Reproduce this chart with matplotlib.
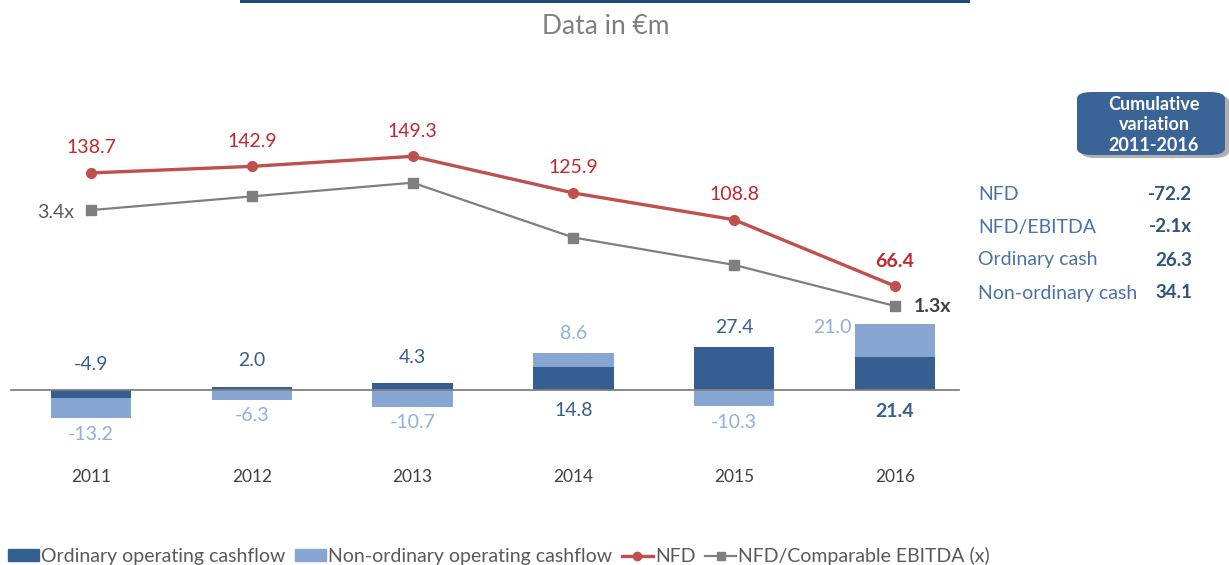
import matplotlib.pyplot as plt
from matplotlib.lines import Line2D
from matplotlib.patches import Patch, FancyBboxPatch, Rectangle

plt.rcParams['font.family'] = ['Lato', 'DejaVu Sans']

# data
years = ['2011', '2012', '2013', '2014', '2015', '2016']
ordinary = [-4.9, 2.0, 4.3, 14.8, 27.4, 21.4]
non_ordinary = [-13.2, -6.3, -10.7, 8.6, -10.3, 21.0]
nfd = [138.7, 142.9, 149.3, 125.9, 108.8, 66.4]
nfd_ebitda = [3.4, 3.7, 4.0, 2.8, 2.2, 1.3]

summary_labels = ['NFD', 'NFD/EBITDA', 'Ordinary cash', 'Non-ordinary cash']
summary_values = ['-72.2', '-2.1x', '26.3', '34.1']

DARK = '#365F91'
LIGHT = '#87A7D2'
RED = '#C0504D'
GREY = '#7F7F7F'
DARK_TXT = '#365F91'
LIGHT_TXT = '#8DB0DC'
RED_TXT = '#C0282D'

fig = plt.figure(figsize=(12.29, 5.65), dpi=100)
ax = fig.add_axes([0, 0, 1, 1])
ax.set_xlim(-0.566, 7.077)
ax.set_ylim(-111.8, 249.2)
ax.axis('off')

ax2 = ax.twinx()
ax2.set_position([0, 0, 1, 1])
ax2.set_ylim(-4.37, 8.0)
ax2.axis('off')

x = list(range(len(years)))

# stacked bars: light part stacks on the dark one when same sign
light_bottom = [o if (o * n > 0) else 0 for o, n in zip(ordinary, non_ordinary)]
ax.bar(x, ordinary, width=0.5, color=DARK, zorder=2)
ax.bar(x, non_ordinary, width=0.5, bottom=light_bottom, color=LIGHT, zorder=2)
ax.plot([-0.5, 5.4], [0, 0], color='#808080', lw=1.3, zorder=3)

ax.plot(x, nfd, color=RED, lw=2.4, marker='o', ms=7, zorder=4)
ax2.plot(x, nfd_ebitda, color=GREY, lw=1.6, marker='s', ms=7.5, zorder=4)

FS = 14

# NFD labels
for i, v in enumerate(nfd):
    bold = i == len(nfd) - 1
    ax.annotate(f'{v:.1f}', (i, v), xytext=(0, 25), textcoords='offset pixels',
                ha='center', va='center', fontsize=FS, color=RED_TXT,
                fontweight='bold' if bold else 'normal')

ax2.annotate(f'{nfd_ebitda[0]:.1f}x', (0, nfd_ebitda[0]), xytext=(-17, -2),
             textcoords='offset pixels', ha='right', va='center', fontsize=FS,
             color='#595959')
ax2.annotate(f'{nfd_ebitda[-1]:.1f}x', (5, nfd_ebitda[-1]), xytext=(19, 0),
             textcoords='offset pixels', ha='left', va='center', fontsize=FS,
             color='#404040', fontweight='bold')

# bar labels
dark_off = [(0, 26), (0, 26), (0, 26), (0, -20), (0, 20), (0, -21)]
for i, v in enumerate(ordinary):
    anchor = max(v, 0) if dark_off[i][1] > 0 else 0
    if i == 4:
        anchor = v
    ax.annotate(f'{v:.1f}', (i, anchor), xytext=dark_off[i], textcoords='offset pixels',
                ha='center', va='center', fontsize=FS, color=DARK_TXT,
                fontweight='bold' if i == 5 else 'normal')

for i, v in enumerate(non_ordinary):
    end = light_bottom[i] + v
    if v < 0:
        ax.annotate(f'{v:.1f}', (i, end), xytext=(0, -16), textcoords='offset pixels',
                    ha='center', va='center', fontsize=FS, color=LIGHT_TXT)
    elif i == 5:
        ax.annotate(f'{v:.1f}', (i, end), xytext=(-43, -4), textcoords='offset pixels',
                    ha='right', va='center', fontsize=FS, color=LIGHT_TXT)
    else:
        ax.annotate(f'{v:.1f}', (i, end), xytext=(0, 20), textcoords='offset pixels',
                    ha='center', va='center', fontsize=FS, color=LIGHT_TXT)

for i, y in enumerate(years):
    ax.annotate(y, (i, 0), xytext=(0, -87), textcoords='offset pixels',
                ha='center', va='center', fontsize=12.5, color='#404040')

# title and top rule
fig.text(606 / 1229, 1 - 27 / 565, 'Data in €m', ha='center', va='center',
         fontsize=19, color=GREY)
fig.add_artist(Rectangle((240 / 1229, 1 - 3 / 565), 730 / 1229, 3 / 565,
                         transform=fig.transFigure, color='#1F497D', lw=0))

# summary box
fig.add_artist(FancyBboxPatch((1081 / 1229, 1 - 158 / 565), 148 / 1229, 63 / 565,
                              boxstyle='round,pad=0,rounding_size=0.012',
                              transform=fig.transFigure, color='#B0B0B0', lw=0))
fig.add_artist(FancyBboxPatch((1077 / 1229, 1 - 155 / 565), 148 / 1229, 63 / 565,
                              boxstyle='round,pad=0,rounding_size=0.012',
                              transform=fig.transFigure, color='#3B6496', lw=0))
fig.text(1154 / 1229, 1 - 125 / 565, 'Cumulative\nvariation\n2011-2016', ha='center',
         va='center', fontsize=13, color='white', fontweight='bold', linespacing=1.25)

for k, (lab, val) in enumerate(zip(summary_labels, summary_values)):
    yy = 1 - (194 + 33 * k) / 565
    fig.text(978 / 1229, yy, lab, ha='left', va='center', fontsize=14, color='#4A72A8')
    fig.text(1192 / 1229, yy, val, ha='right', va='center', fontsize=13.5,
             color='#2F5283', fontweight='bold')

handles = [Patch(color=DARK), Patch(color=LIGHT),
           Line2D([], [], color=RED, lw=2.4, marker='o', ms=6),
           Line2D([], [], color=GREY, lw=1.6, marker='s', ms=6)]
labels = ['Ordinary operating cashflow', 'Non-ordinary operating cashflow', 'NFD',
          'NFD/Comparable EBITDA (x)']
fig.legend(handles, labels, loc='lower left', bbox_to_anchor=(-0.008, -0.031), ncol=4,
           frameon=False, fontsize=14, handlelength=1.6, handletextpad=0.1,
           columnspacing=0.5, labelcolor='#595959', handleheight=0.55)

fig.savefig('out.png', dpi=100)
